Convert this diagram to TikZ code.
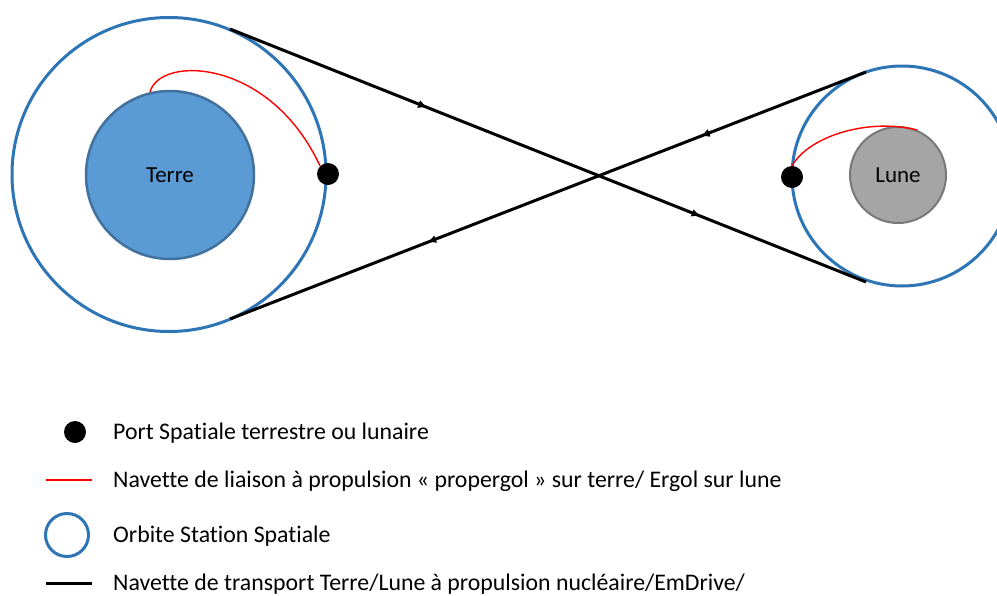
\documentclass[tikz,border=0pt]{standalone}
\usepackage{fontspec}
\setmainfont{Carlito}[Ligatures={NoCommon}]
\usetikzlibrary{arrows.meta,decorations.markings}
\definecolor{orbitblue}{RGB}{46,117,182}
\definecolor{earthfill}{RGB}{91,155,213}
\definecolor{earthline}{RGB}{65,113,156}
\definecolor{moonfill}{RGB}{165,165,165}
\definecolor{moonline}{RGB}{120,120,120}
\tikzset{
  orbit/.style={circle,draw=orbitblue,line width=3pt,inner sep=0pt},
  planet/.style={circle,line width=2.5pt,inner sep=0pt,font=\fontsize{23}{27}\selectfont},
  port/.style={circle,fill=black,inner sep=0pt,minimum size=22pt},
  shuttle/.style={red,line width=1.4pt},
  transport/.style={black,line width=3pt,postaction={decorate},
    decoration={markings,
      mark=at position #1 with {\arrow{Latex[length=9pt,width=8pt]}}}},
  legtext/.style={anchor=base west,inner sep=0pt,font=\fontsize{23.8}{28}\selectfont},
}
\begin{document}
\begin{tikzpicture}[x=1pt,y=-1pt]
\clip (0,0) rectangle (997,595);
\fill[white] (0,0) rectangle (997,595);
% Earth system
\node[orbit,minimum size=314pt] (eorbit) at (169,174.5) {};
\node[planet,fill=earthfill,draw=earthline,minimum size=168pt] (earth) at (170,175) {Terre};
% Moon system
\node[orbit,minimum size=220pt] (morbit) at (902,176) {};
\node[planet,fill=moonfill,draw=moonline,minimum size=96pt,line width=2pt] (moon) at (898,175) {Lune};
% transport line end points
\coordinate (ea) at (230,29);
\coordinate (eb) at (230,319);
\coordinate (mt) at (866,72);
\coordinate (mb) at (866,282);
\draw[transport={0.31},postaction={decorate,decoration={markings,mark=at position 0.74 with {\arrow{Latex[length=9pt,width=8pt]}}}}] (ea) -- (mb);
\draw[transport={0.26},postaction={decorate,decoration={markings,mark=at position 0.69 with {\arrow{Latex[length=9pt,width=8pt]}}}}] (mt) -- (eb);
% ports
\node[port] (eport) at (328,174) {};
\node[port] (mport) at (792,177) {};
% red shuttle links
\coordinate (estart) at (150,92);
\coordinate (mend) at (917,130);
\draw[shuttle] (estart) .. controls (160,55) and (270,58) .. (eport.north west);
\draw[shuttle] (mport.north) .. controls (810,135) and (870,118) .. (mend);
% legend
\node[port] (lport) at (75,432) {};
\node[legtext] (t1) at (113,439) {Port Spatiale terrestre ou lunaire};
\coordinate (lr1) at (46,480);
\coordinate (lr2) at (92,480);
\draw[shuttle] (lr1) -- (lr2);
\node[legtext] (t2) at (113,487) {Navette de liaison à propulsion « propergol » sur terre/ Ergol sur lune};
\node[orbit,minimum size=43pt] (lorbit) at (67,535) {};
\node[legtext] (t3) at (113,542) {Orbite Station Spatiale};
\coordinate (lb1) at (46,583);
\coordinate (lb2) at (92,583);
\draw[black,line width=3pt] (lb1) -- (lb2);
\node[legtext] (t4) at (113,590) {Navette de transport Terre/Lune à propulsion nucléaire/EmDrive/};
\end{tikzpicture}
\end{document}
